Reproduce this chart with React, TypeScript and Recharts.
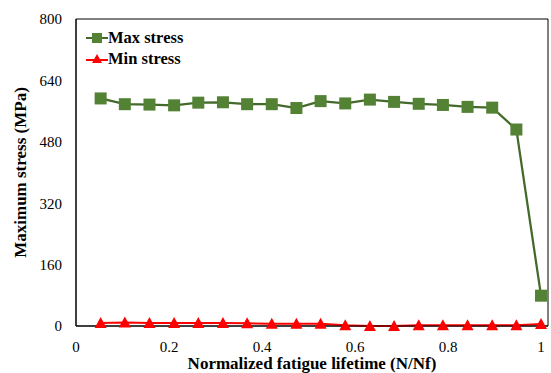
import { LineChart, Line, XAxis, YAxis, ReferenceArea } from 'recharts';

// fraction of fatigue life at which each cycle was logged
const lifeFraction = [0.053, 0.105, 0.158, 0.211, 0.263, 0.316, 0.368, 0.421, 0.474, 0.526, 0.579, 0.632, 0.684, 0.737, 0.789, 0.842, 0.895, 0.947, 1];
const maxStress = [593, 578, 577, 575, 582, 583, 578, 578, 568, 586, 580, 590, 584, 579, 576, 571, 569, 512, 79];
const minStress = [8, 9, 8, 8, 8, 8, 7, 6, 6, 6, 2, 0, 0, 2, 2, 2, 2, 2, 5];
const xTicks = [0, 0.2, 0.4, 0.6, 0.8, 1];
const yTicks = [0, 160, 320, 480, 640, 800];

const data = lifeFraction.map((x, i) => ({ x, max: maxStress[i], min: minStress[i] }));

const GREEN = '#548235';
const GREEN_LINE = '#436a2a';
const RED = '#ff0000';
const FONT = '"Liberation Serif", serif';

const SquareDot = (props: any) => {
  const { cx, cy, index } = props;
  if (cx == null || cy == null) return <g key={index} />;
  return <rect key={index} x={cx - 6} y={cy - 6} width={12} height={12} fill={GREEN} />;
};

const TriangleDot = (props: any) => {
  const { cx, cy, index } = props;
  if (cx == null || cy == null) return <g key={index} />;
  return <polygon key={index} points={`${cx},${cy - 6} ${cx + 6},${cy + 5} ${cx - 6},${cy + 5}`} fill={RED} />;
};

// legend drawn as an overlay inside the plot area
const LegendBox = () => (
  <div style={{ position: 'absolute', left: 86, top: 27, fontFamily: FONT, fontWeight: 'bold', fontSize: 16.5, color: '#000', lineHeight: '21px' }}>
    <div style={{ display: 'flex', alignItems: 'center' }}>
      <svg width={22} height={12}>
        <line x1={0} y1={6} x2={22} y2={6} stroke={GREEN_LINE} strokeWidth={2} />
        <rect x={6} y={1} width={10} height={10} fill={GREEN} />
      </svg>
      <span>Max stress</span>
    </div>
    <div style={{ display: 'flex', alignItems: 'center' }}>
      <svg width={22} height={12}>
        <line x1={0} y1={7} x2={22} y2={7} stroke={RED} strokeWidth={2} />
        <polygon points="11,1 16,10 6,10" fill={RED} />
      </svg>
      <span>Min stress</span>
    </div>
  </div>
);

export default function App() {
  const tickStyle = { fontFamily: FONT, fontSize: 15, fill: '#000' };
  const titleStyle = { fontFamily: FONT, fontSize: 17, fontWeight: 'bold', fill: '#000' };

  return (
    <div style={{ position: 'absolute', left: 0, top: 0, width: 551, height: 373, background: '#fff' }}>
      <LineChart width={551} height={373} data={data} margin={{ top: 19, right: 3, bottom: 0, left: 20 }}>
        <XAxis
          dataKey="x"
          type="number"
          domain={[0, 1.015]}
          ticks={xTicks}
          tickLine={false}
          tickMargin={9}
          tick={tickStyle}
          axisLine={{ stroke: '#000', strokeWidth: 1 }}
          height={47}
          label={{ value: 'Normalized fatigue lifetime (N/Nf)', position: 'insideBottom', offset: 4, style: titleStyle }}
        />
        <YAxis
          type="number"
          domain={[0, 800]}
          ticks={yTicks}
          tickLine={false}
          tickMargin={8}
          tick={tickStyle}
          axisLine={{ stroke: '#000', strokeWidth: 1 }}
          width={56}
          label={{ value: 'Maximum stress (MPa)', angle: -90, position: 'insideLeft', offset: 0, style: { ...titleStyle, textAnchor: 'middle' } }}
        />
        <ReferenceArea x1={0} x2={1.015} y1={0} y2={800} fill="none" stroke="#000" strokeWidth={1} ifOverflow="visible" />
        <Line dataKey="max" stroke={GREEN_LINE} strokeWidth={2.25} dot={SquareDot} isAnimationActive={false} />
        <Line dataKey="min" stroke={RED} strokeWidth={2} dot={TriangleDot} isAnimationActive={false} />
      </LineChart>
      <LegendBox />
    </div>
  );
}
